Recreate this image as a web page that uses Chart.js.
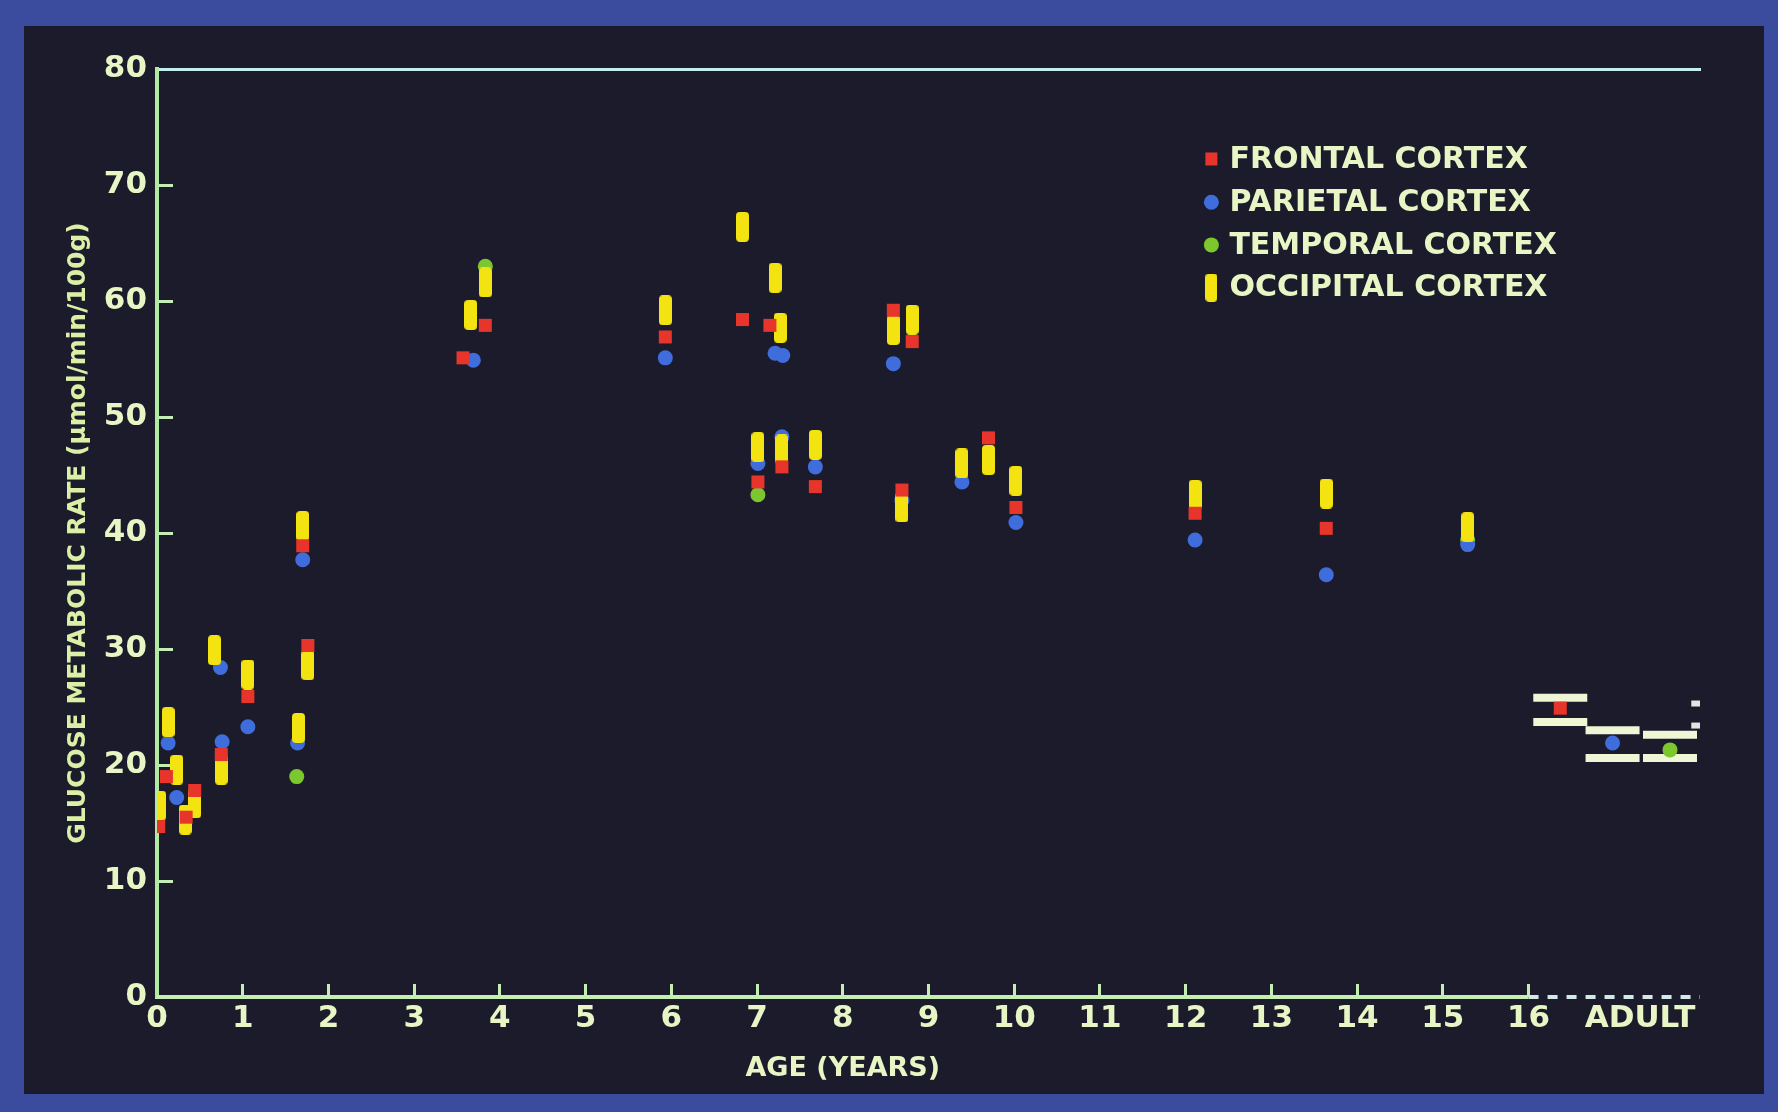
<!DOCTYPE html>
<html>
<head>
<meta charset="utf-8">
<script src="https://cdn.jsdelivr.net/npm/chart.js@4.4.1/dist/chart.umd.min.js"></script>
<style>
  html, body { margin: 0; padding: 0; width: 1778px; height: 1112px; overflow: hidden; background: #3b4b9d; }
  #panel { position: absolute; left: 24px; top: 26px; width: 1740px; height: 1068px; background: #1c1b2c; }
  #wrap { position: absolute; left: 0; top: 0; width: 1778px; height: 1112px; }
</style>
</head>
<body>
<div id="panel"></div>
<div id="wrap"><canvas id="chart"></canvas></div>
<script>
// values (age in years, rate in umol/min/100g)
const frontalAge = [0.02, 0.11, 0.34, 0.44, 0.75, 1.06, 1.70, 1.76, 3.57, 3.83, 5.93, 6.83, 7.01, 7.15, 7.29, 7.68, 8.59, 8.69, 8.81, 9.70, 10.02, 12.11, 13.64, 16.37];
const frontalRate = [14.7, 19.0, 15.5, 17.8, 20.9, 25.9, 38.9, 30.3, 55.1, 57.9, 56.9, 58.4, 44.4, 57.9, 45.7, 44.0, 59.2, 43.7, 56.5, 48.2, 42.2, 41.7, 40.4, 24.9];

const parietalAge = [0.13, 0.23, 0.74, 0.76, 1.06, 1.64, 1.70, 3.69, 5.93, 7.01, 7.21, 7.30, 7.29, 7.68, 8.59, 8.69, 9.39, 10.02, 12.11, 13.64, 15.29, 16.98];
const parietalRate = [21.9, 17.2, 28.4, 22.0, 23.3, 21.9, 37.7, 54.9, 55.1, 46.0, 55.5, 55.3, 48.3, 45.7, 54.6, 42.8, 44.4, 40.9, 39.4, 36.4, 39.0, 21.9];

const temporalAge = [1.63, 3.83, 7.01, 15.29, 17.65];
const temporalRate = [19.0, 63.0, 43.3, 39.4, 21.3];

const occipitalAge = [0.03, 0.13, 0.23, 0.33, 0.44, 0.67, 0.75, 1.06, 1.65, 1.70, 1.76, 3.66, 3.83, 5.93, 6.83, 7.01, 7.21, 7.27, 7.29, 7.68, 8.59, 8.69, 8.81, 9.39, 9.70, 10.02, 12.11, 13.64, 15.29];
const occipitalRate = [16.5, 23.7, 19.6, 15.3, 16.7, 29.9, 19.6, 27.8, 23.2, 40.6, 28.6, 58.8, 61.6, 59.2, 66.4, 47.4, 62.0, 57.7, 47.2, 47.6, 57.5, 42.2, 58.4, 46.0, 46.3, 44.5, 43.3, 43.4, 40.5];

// adult error caps
const capAge = [16.37, 16.37, 16.98, 16.98, 17.65, 17.65];
const capRate = [25.8, 23.7, 23.0, 20.6, 22.6, 20.6];
const occCapAge = [17.98, 17.98];
const occCapRate = [25.3, 23.4];

// axis
const xTickValues = [0, 1, 2, 3, 4, 5, 6, 7, 8, 9, 10, 11, 12, 13, 14, 15, 16];
const adultTick = 17.3;
const adultLabel = 'ADULT';
const axisSolidAge = [0, 16];
const axisDashAge = [16, 18];

const pts = (xs, ys) => xs.map((x, i) => ({ x: x, y: ys[i] }));

const axisColor = '#c4eeb4';
const labelColor = '#e8f6c6';
const yellow = '#f2e311';
const FONT = "'DejaVu Sans', 'Liberation Sans', sans-serif";

Chart.defaults.font.family = FONT;
Chart.defaults.font.weight = 'bold';

// rounded vertical bar used as the occipital marker
function makeBar(w, h, color) {
  const c = document.createElement('canvas');
  c.width = w;
  c.height = h;
  const g = c.getContext('2d');
  g.fillStyle = color;
  g.beginPath();
  g.roundRect(0, 0, w, h, 4);
  g.fill();
  return c;
}
const occBar = makeBar(13, 30, yellow);

// legend drawn inside the plot, upper right
const cortexLegend = {
  id: 'cortexLegend',
  afterDraw(chart) {
    const ctx = chart.ctx;
    const x0 = chart.scales.x.getPixelForValue(12.3);
    let y = chart.scales.y.getPixelForValue(72.2);
    ctx.save();
    ctx.font = 'bold 30px ' + FONT;
    ctx.textBaseline = 'middle';
    chart.data.datasets.slice(0, 4).forEach(ds => {
      ctx.fillStyle = ds.legendColor;
      if (ds.label.startsWith('FRONTAL')) {
        ctx.fillRect(x0 - 6, y - 7, 12, 13);
      } else if (ds.label.startsWith('OCCIPITAL')) {
        ctx.drawImage(occBar, x0 - 6, y - 14, 12, 28);
      } else {
        ctx.beginPath();
        ctx.arc(x0, y, 7.5, 0, Math.PI * 2);
        ctx.fill();
      }
      ctx.fillStyle = labelColor;
      ctx.fillText(ds.label, x0 + 18, y + 1);
      y += 42.7;
    });
    ctx.restore();
  }
};

// x-axis title, sits under age 8 in the original
const ageTitle = {
  id: 'ageTitle',
  afterDraw(chart) {
    const ctx = chart.ctx;
    ctx.save();
    ctx.font = 'bold 27px ' + FONT;
    ctx.fillStyle = labelColor;
    ctx.textAlign = 'center';
    ctx.textBaseline = 'middle';
    ctx.fillText('AGE (YEARS)', chart.scales.x.getPixelForValue(8.0), chart.chartArea.bottom + 72);
    ctx.restore();
  }
};

new Chart(document.getElementById('chart'), {
  type: 'scatter',
  data: {
    datasets: [
      {
        label: 'FRONTAL CORTEX',
        data: pts(frontalAge, frontalRate),
        pointStyle: 'rect',
        pointRadius: 9.2,
        backgroundColor: '#e8352b',
        borderWidth: 0,
        legendColor: '#e8352b',
        order: 0
      },
      {
        label: 'PARIETAL CORTEX',
        data: pts(parietalAge, parietalRate),
        pointStyle: 'circle',
        pointRadius: 7.5,
        backgroundColor: '#3f6ddb',
        borderWidth: 0,
        legendColor: '#3f6ddb',
        order: 2
      },
      {
        label: 'TEMPORAL CORTEX',
        data: pts(temporalAge, temporalRate),
        pointStyle: 'circle',
        pointRadius: 7.5,
        backgroundColor: '#7cc72e',
        borderWidth: 0,
        legendColor: '#7cc72e',
        order: 3
      },
      {
        label: 'OCCIPITAL CORTEX',
        data: pts(occipitalAge, occipitalRate),
        pointStyle: occBar,
        pointRadius: 15,
        legendColor: yellow,
        order: 1
      },
      {
        label: 'caps',
        data: pts(capAge, capRate),
        pointStyle: 'line',
        pointRadius: 27,
        borderColor: '#eef6d6',
        borderWidth: 8,
        order: 4
      },
      {
        label: 'occipital caps',
        data: pts(occCapAge, occCapRate),
        pointStyle: 'line',
        pointRadius: 7,
        borderColor: '#dfe8e0',
        borderWidth: 6,
        order: 4
      },
      {
        label: 'axis',
        data: axisSolidAge.map(a => ({ x: a, y: 0 })),
        showLine: true,
        pointRadius: 0,
        borderColor: axisColor,
        borderWidth: 4,
        clip: false,
        order: 5
      },
      {
        label: 'axis dashed',
        data: axisDashAge.map(a => ({ x: a, y: 0 })),
        showLine: true,
        pointRadius: 0,
        borderColor: '#d4e8e8',
        borderWidth: 4,
        borderDash: [10, 9],
        clip: false,
        order: 5
      }
    ]
  },
  options: {
    responsive: true,
    maintainAspectRatio: false,
    animation: false,
    events: [],
    layout: { padding: { left: 57, right: 78, top: 69, bottom: 15 } },
    plugins: { legend: { display: false }, tooltip: { enabled: false } },
    scales: {
      x: {
        type: 'linear',
        position: 'bottom',
        min: 0,
        max: 18,
        afterBuildTicks: scale => {
          scale.ticks = xTickValues.concat([adultTick]).map(v => ({ value: v }));
        },
        afterFit: scale => { scale.height = 100; },
        ticks: {
          autoSkip: false,
          maxRotation: 0,
          padding: 16,
          color: labelColor,
          font: { size: 31, weight: 'bold' },
          callback: v => (v === adultTick ? adultLabel : v)
        },
        grid: {
          drawOnChartArea: false,
          tickLength: -13,
          tickWidth: 3,
          tickColor: c => (c.tick && c.tick.value > 16 ? 'rgba(0,0,0,0)' : axisColor)
        },
        border: { display: false }
      },
      x2: {
        type: 'linear',
        position: 'top',
        min: 0,
        max: 18,
        afterFit: scale => { scale.height = 0; },
        ticks: { display: false },
        grid: { display: false },
        border: { display: true, color: '#c6eef0', width: 3 }
      },
      y: {
        min: 0,
        max: 80,
        afterFit: scale => { scale.width = 100; },
        ticks: {
          stepSize: 10,
          padding: 26,
          color: labelColor,
          font: { size: 31, weight: 'bold' }
        },
        grid: {
          drawOnChartArea: false,
          tickLength: -16,
          tickWidth: 3,
          tickColor: axisColor
        },
        border: { display: true, color: '#b2eaa4', width: 4 },
        title: {
          display: true,
          text: 'GLUCOSE METABOLIC RATE (µmol/min/100g)',
          color: '#dcefa6',
          font: { size: 25, weight: 'bold' },
          padding: { top: 6, bottom: 0 }
        }
      }
    }
  },
  plugins: [cortexLegend, ageTitle]
});
</script>
</body>
</html>
